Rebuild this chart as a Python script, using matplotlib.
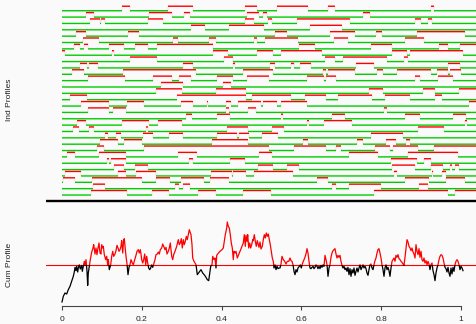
import numpy as np
import matplotlib
matplotlib.use('Agg')
import matplotlib.pyplot as plt
from matplotlib.collections import LineCollection
from matplotlib.patches import Rectangle

plt.rcParams['font.family'] = ['Liberation Sans', 'DejaVu Sans']

# DATA ---------------------------------------------------------------------------------------------------------------
N_STEPS = 399      # x = step / N_STEPS
T_END = 415        # profiles run on to the right edge
HIGH = 0.71        # height of the "on" level above each row's baseline

# start/end step of every "on" stretch, one list per profile, top row first
high_runs = [
    [(60, 68), (106, 131), (183, 195), (215, 246), (266, 273), (369, 372)],
    [(24, 32), (87, 110), (122, 128), (185, 197), (201, 205), (301, 308)],
    [(28, 38), (39, 43), (86, 101), (183, 192), (206, 210), (235, 288), (353, 359), (366, 370)],
    [(129, 143), (167, 202), (248, 280)],
    [(14, 24), (66, 77), (213, 225), (268, 293), (314, 320), (355, 403)],
    [(21, 37), (111, 116), (147, 154), (192, 195), (203, 236), (272, 286), (343, 362)],
    [(12, 18), (22, 26), (47, 62), (73, 86), (95, 151), (237, 253), (309, 330), (377, 386), (398, 415)],
    [(0, 3), (50, 52), (151, 166), (195, 211), (219, 260), (330, 345), (348, 401)],
    [(68, 95), (162, 171), (263, 273), (281, 325), (342, 346)],
    [(18, 25), (27, 36), (121, 131), (171, 173), (208, 213), (229, 232), (238, 249), (294, 312), (386, 398)],
    [(10, 22), (61, 134), (181, 211), (261, 264), (266, 293), (315, 321), (335, 369), (375, 386), (388, 399)],
    [(26, 63), (91, 110), (117, 129), (155, 171), (185, 207), (245, 262), (264, 274), (353, 358), (376, 391)],
    [(99, 121), (161, 169)],
    [(94, 120), (154, 184), (307, 321), (361, 373), (397, 415)],
    [(8, 25), (115, 184), (190, 229), (243, 264), (276, 310), (323, 348), (373, 380)],
    [(19, 47), (65, 82), (119, 131), (145, 146), (164, 169), (176, 199), (201, 215), (219, 245), (407, 415)],
    [(26, 47), (51, 64), (164, 167), (186, 194), (322, 325)],
    [(124, 130), (155, 168), (219, 221), (270, 283), (343, 358), (391, 404)],
    [(15, 24), (60, 87), (96, 120), (245, 247), (262, 290), (403, 405)],
    [(11, 17), (27, 32), (84, 86), (165, 186), (210, 222), (356, 382)],
    [(43, 46), (54, 59), (81, 91), (107, 121), (155, 175), (177, 187), (200, 216), (309, 341)],
    [(38, 56), (62, 80), (150, 186), (241, 246), (295, 301), (324, 334), (344, 348)],
    [(35, 42), (82, 207), (232, 264), (274, 279), (313, 328), (331, 356), (372, 415)],
    [(5, 13), (37, 64), (116, 135), (197, 210), (287, 316), (346, 396)],
    [(45, 47), (49, 64), (127, 131), (168, 183), (329, 355), (362, 369)],
    [(52, 62), (73, 86), (196, 211), (225, 237), (330, 353), (369, 381), (388, 390), (393, 397)],
    [(3, 19), (56, 64), (74, 94), (149, 170), (171, 184), (192, 231), (332, 335), (370, 371), (380, 384)],
    [(1, 13), (30, 80), (94, 108), (119, 142), (148, 167), (255, 266), (343, 367), (384, 403)],
    [(31, 43), (113, 117), (121, 128), (270, 274), (287, 319), (357, 366)],
    [(29, 65), (90, 107), (136, 154), (181, 209), (312, 386), (393, 415)],
]

# cumulative profile
cum_steps = [
    0, 1.3, 3, 4.7, 6.3, 8, 9.7, 11.3, 12.3, 13, 14, 14.7, 15.7, 16.3, 17.3, 18.3, 19.7, 20.3, 21.3, 22.3,
    23, 24, 25, 25.7, 26.3, 27.3, 28.3, 29.7, 31, 31.7, 33, 34, 35, 35.7, 37, 38, 39, 39.7, 40.7, 41.3,
    42.3, 43.7, 44.7, 45.7, 46.3, 47.3, 48.7, 49.7, 50.7, 51.7, 53, 54, 55, 56, 57, 58, 59, 59.7, 60.7, 61.7,
    62.3, 63, 64, 65, 66, 67, 68, 69, 70.3, 71.3, 72.3, 73.7, 75, 76.3, 77.3, 78.3, 79, 79.7, 80.7, 81.7,
    82.7, 83.7, 84.7, 85.7, 86.7, 87.7, 88.7, 89.7, 90.7, 91.7, 93, 94, 95.3, 96.3, 97.3, 98.3, 99.7, 100.7, 101.7, 103,
    104, 105, 106.3, 107.3, 108.3, 109.7, 110.7, 111.7, 113, 114.7, 116.3, 117.3, 118.3, 119.3, 120.3, 121.3, 122.3, 123.3, 124.3, 125.3,
    126.3, 127.3, 129, 130, 130.7, 132, 134, 135.3, 137.3, 139, 140.7, 142.7, 144, 145.3, 146.7, 147.3, 148.7, 150, 150.7, 152,
    153, 154, 154.7, 155.7, 157.3, 158.7, 160, 161.3, 162.3, 163.3, 164, 164.7, 165.3, 166.3, 167.3, 168.3, 169.3, 170.3, 171.3, 172,
    173, 174, 175.3, 176.7, 178, 179.3, 180.3, 181.3, 182.3, 183.3, 184, 185, 185.7, 186.7, 187.7, 188.7, 189.7, 190.7, 191.3, 192.3,
    193.3, 194.3, 195.3, 196.3, 197, 198, 199, 200.3, 201.3, 202.3, 203.3, 204.3, 205.3, 206.3, 207.3, 208.3, 209.3, 210.3, 211.3, 212,
    213, 214, 215, 216, 217, 218, 219, 220, 221.3, 222.7, 224, 225.3, 226.7, 228, 229, 230, 231, 232, 233, 234,
    235, 236, 237.3, 238.3, 239.3, 240.3, 241.3, 242.7, 244, 245, 246, 247, 248, 249, 250, 251, 252, 253, 254, 255,
    256, 257, 258, 259, 260, 261, 262, 263, 264, 265, 266, 267, 268, 269, 270, 271, 272, 273, 274, 275,
    276, 277, 278, 279, 280, 281, 282, 283, 284, 285, 286, 287, 288, 289, 290, 291, 292, 293, 294, 295,
    296, 297, 298, 299, 300, 301, 302, 303, 304, 305, 306, 307, 308, 309, 310, 311, 312, 313, 314, 315,
    316, 317, 318, 319, 320, 321, 322, 323, 324, 325, 326, 327, 328, 329, 330, 331, 332, 333, 334, 335,
    336, 337, 338, 339, 340, 341, 342, 343, 344, 345, 346, 347, 348, 349, 350, 351, 352, 353, 354, 355,
    356, 357, 358, 359, 360, 361, 362, 363, 364, 365, 366, 367, 368, 369, 370, 371, 372, 373, 374, 375,
    376, 377, 378, 379, 380, 381, 382, 383, 384, 385, 386, 387, 388, 389, 390, 391, 392, 393, 394, 395,
    396, 397, 398, 399, 400, 401,
]
cum_vals = [
    -110, -93, -83, -86, -73, -63, -48, -33, -20, -6, -16, -3, -20, -8, 2, -11, 0, -18, -3, 12,
    0, 17, -18, -60, -23, -3, 17, 40, 52, 62, 34, 52, 32, 47, 67, 37, 34, 62, 52, 57,
    32, 17, 27, 2, 17, -13, 2, 27, 42, 27, 34, 44, 60, 52, 42, 47, 57, 74, 37, 77,
    80, 57, 27, 4, -28, -6, 2, 17, 7, 2, 12, 27, 42, 47, 37, 47, 34, 17, 7, 17,
    34, 2, 27, 7, -8, -13, -8, 2, -6, 4, 17, 32, 34, 40, 34, 47, 52, 64, 57, 47,
    54, 34, 42, 52, 67, 27, 17, 32, 42, 57, 77, 62, 67, 80, 52, 77, 62, 72, 87, 77,
    92, 107, 92, 62, 22, 12, 2, -28, -20, -13, -23, -30, -36, -43, -46, -33, -3, 2, 27, 17,
    22, -8, 30, 34, 40, 44, 47, 52, 72, 92, 102, 112, 130, 117, 112, 92, 67, 52, 17, 42,
    37, 42, 22, 32, 42, 52, 60, 67, 92, 57, 90, 72, 92, 52, 67, 52, 62, 77, 74, 92,
    72, 57, 74, 62, 54, 70, 49, 57, 77, 92, 82, 97, 87, 94, 77, 62, 42, 22, 12, -8,
    2, -13, -3, -10, -8, -8, 4, 27, 17, 12, 4, 12, 12, 22, 14, 12, 2, -18, -28, -13,
    -20, -8, -3, 2, -8, 4, 12, 22, 34, 50, 37, 12, -8, -10, -6, -3, -10, -6, 2, -3,
    -10, -3, -10, 0, -6, 2, -3, 30, 17, 2, -33, -8, 2, 24, 37, 44, 47, 50, 34, 22,
    30, 24, 30, 12, 0, -8, -3, -13, -8, -18, -6, -28, -10, -33, -13, -23, -8, -30, -18, -8,
    -20, -8, 2, -13, -6, 2, -8, -3, -10, -23, -30, -13, 2, 4, -8, -13, 2, 14, 22, 37,
    47, 50, 37, 22, 2, -13, -33, -8, 2, -13, -6, -16, -33, -8, 12, 17, 22, 12, 30, 24,
    32, 20, 17, 12, 9, 4, 0, 24, 52, 77, 70, 57, 52, 44, 52, 40, 34, 22, 62, 42,
    32, 50, 24, 42, 17, 12, 22, 7, 14, 2, 12, 4, -13, 2, 7, -16, -28, -46, -23, -8,
    2, 17, 27, 32, 30, 22, 7, -6, -10, -20, -6, -23, -33, -8, -26, -6, -18, 2, 12, 17,
    12, 2, -13, -3, -8, -16,
]
tick_vals = [0, 0.2, 0.4, 0.6, 0.8, 1]
tick_labels = ['0', '0.2', '0.4', '0.6', '0.8', '1']

GREEN = '#00cd00'
RED = '#ff0000'
BG = '#fafafa'

# FIGURE -------------------------------------------------------------------------------------------------------------
W, H = 477, 324
fig = plt.figure(figsize=(W / 100, H / 100), dpi=100)
fig.patch.set_facecolor(BG)

# top panel: individual on/off profiles
ax_top = fig.add_axes([46 / W, (H - 209) / H, 431 / W, 209 / H])
ax_top.set_facecolor('none')
n_rows = len(high_runs)
low_segs, high_segs, edge_segs = [], [], []
for i, runs in enumerate(high_runs):
    base = n_rows - i
    prev = 0
    for s, e in runs:
        if s > prev:
            low_segs.append([(prev / N_STEPS, base), (s / N_STEPS, base)])
        high_segs.append([(s / N_STEPS, base + HIGH), (e / N_STEPS, base + HIGH)])
        if s > 0:
            edge_segs.append([(s / N_STEPS, base), (s / N_STEPS, base + HIGH)])
        if e < T_END:
            edge_segs.append([(e / N_STEPS, base), (e / N_STEPS, base + HIGH)])
        prev = e
    if prev < T_END:
        low_segs.append([(prev / N_STEPS, base), (T_END / N_STEPS, base)])

for segs, col, lw in [(edge_segs, '#f4c4c4', 0.35), (low_segs, GREEN, 1.0), (high_segs, RED, 1.0)]:
    lc = LineCollection(segs, colors=col, linewidths=lw)
    lc.set_snap(False)
    ax_top.add_collection(lc)
ax_top.axhline(0, color='black', lw=1.7)
ax_top.set_xlim(-16 / N_STEPS, T_END / N_STEPS)
ax_top.set_ylim(-1.2, 31.69)
ax_top.axis('off')

# bottom panel: cumulative profile, red above zero and black below
ax_bot = fig.add_axes([46 / W, (H - 306) / H, 431 / W, 91 / H])
ax_bot.set_facecolor('none')
cx = np.array(cum_steps) / N_STEPS
cy = np.array(cum_vals)
ax_bot.axhline(0, color=RED, lw=0.8)
above, = ax_bot.plot(cx, cy, color=RED, lw=0.9)
below, = ax_bot.plot(cx, cy, color='black', lw=0.9)
above.set_clip_path(Rectangle((-1, 0), 3, 1000, transform=ax_bot.transData))
below.set_clip_path(Rectangle((-1, -1000), 3, 1000, transform=ax_bot.transData))
ax_bot.set_xlim(-16 / N_STEPS, T_END / N_STEPS)
ax_bot.set_ylim(-122, 151)
for side in ['top', 'right', 'left']:
    ax_bot.spines[side].set_visible(False)
ax_bot.spines['bottom'].set_bounds(0, 1)
ax_bot.spines['bottom'].set_color('#444444')
ax_bot.spines['bottom'].set_linewidth(0.8)
ax_bot.set_yticks([])
ax_bot.set_xticks(tick_vals)
ax_bot.set_xticklabels(tick_labels)
ax_bot.tick_params(axis='x', direction='out', length=3, width=0.8, color='#444444',
                   labelsize=6, labelcolor='#222222', pad=4)

fig.text(10 / W, 1 - 100 / H, 'Ind Profiles', rotation=90, ha='center', va='center', fontsize=6, color='#222222')
fig.text(10 / W, 1 - 265 / H, 'Cum Profile', rotation=90, ha='center', va='center', fontsize=6, color='#222222')

fig.savefig('out.png', dpi=100, facecolor=BG)
